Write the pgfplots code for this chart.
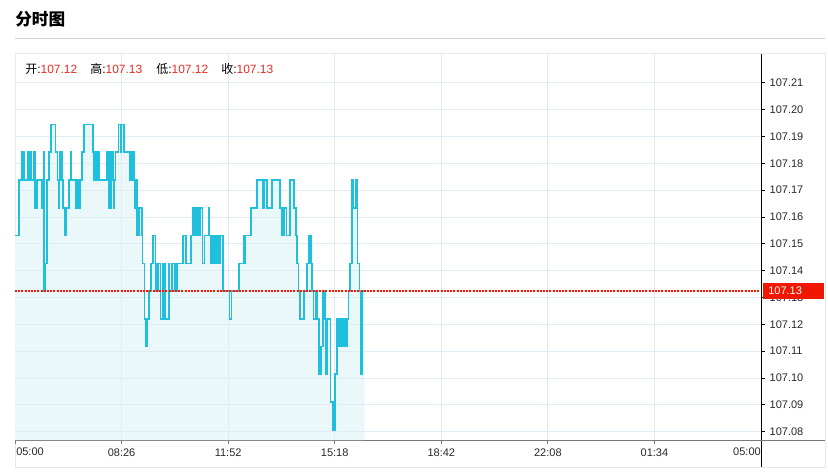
\documentclass[border=0pt]{standalone}
\usepackage{fontspec}
\setmainfont{Liberation Sans}
\newfontfamily\cjk{Noto Sans CJK SC}
\usepackage{pgfplots}
\usepackage{pgfplotstable}
\pgfplotsset{compat=1.18}

\definecolor{linec}{RGB}{30,192,222}
\definecolor{fillc}{RGB}{234,248,250}
\definecolor{gridc}{RGB}{224,235,243}
\definecolor{framec}{RGB}{226,232,238}
\definecolor{titleline}{RGB}{205,205,205}
\definecolor{redtxt}{RGB}{232,44,36}
\definecolor{redline}{RGB}{255,20,0}
\definecolor{redbox}{RGB}{240,22,0}
\definecolor{ticktxt}{RGB}{40,40,40}
\definecolor{xaxisc}{RGB}{120,120,120}

% minutes since 05:00, price
\pgfplotstableread{
m p
0 107.1531
8 107.1738
14 107.1841
15 107.1738
16 107.1841
18 107.1738
25 107.1841
27 107.1738
29 107.1841
31 107.1738
37 107.1841
38 107.1634
40 107.1738
41 107.1634
43 107.1738
51 107.1634
53 107.1738
55 107.1841
56 107.1324
58 107.1427
62 107.1738
66 107.1841
70 107.1944
78 107.1841
82 107.1738
84 107.1634
85 107.1738
87 107.1841
91 107.1738
93 107.1634
96 107.1531
98 107.1634
104 107.1738
107 107.1841
108 107.1738
118 107.1634
120 107.1738
124 107.1634
126 107.1738
129 107.1841
133 107.1944
151 107.1841
152 107.1738
153 107.1841
156 107.1738
158 107.1841
162 107.1738
178 107.1841
181 107.1738
182 107.1634
185 107.1738
186 107.1841
189 107.1738
190 107.1634
192 107.1738
194 107.1841
200 107.1944
204 107.1841
205 107.1944
210 107.1841
221 107.1738
223 107.1841
225 107.1738
226 107.1841
229 107.1738
232 107.1634
234 107.1738
235 107.1634
236 107.1531
240 107.1634
245 107.1531
246 107.1427
250 107.1221
253 107.1117
255 107.1221
258 107.1324
262 107.1427
266 107.1531
271 107.1324
273 107.1427
276 107.1324
277 107.1427
281 107.1221
285 107.1427
290 107.1221
297 107.1427
298 107.1324
303 107.1427
308 107.1324
310 107.1427
312 107.1324
313 107.1427
324 107.1531
330 107.1427
340 107.1531
344 107.1634
348 107.1531
352 107.1634
355 107.1531
357 107.1634
362 107.1427
366 107.1531
374 107.1634
375 107.1531
378 107.1427
380 107.1531
382 107.1427
384 107.1531
388 107.1427
390 107.1531
394 107.1427
396 107.1531
401 107.1427
402 107.1324
414 107.1221
418 107.1324
433 107.1427
442 107.1531
443 107.1427
445 107.1531
456 107.1634
467 107.1738
478 107.1634
481 107.1738
487 107.1634
496 107.1738
512 107.1634
515 107.1531
519 107.1634
524 107.1531
531 107.1738
539 107.1634
542 107.1531
544 107.1427
547 107.1324
550 107.1221
558 107.1324
563 107.1427
568 107.1531
571 107.1427
573 107.1324
576 107.1221
581 107.1324
584 107.1221
587 107.1014
590 107.1117
595 107.1324
598 107.1221
600 107.1014
603 107.1221
609 107.0910
614 107.0807
618 107.1014
622 107.1221
625 107.1117
627 107.1221
629 107.1117
631 107.1221
634 107.1117
636 107.1221
638 107.1117
641 107.1221
644 107.1324
647 107.1427
650 107.1738
653 107.1634
658 107.1738
661 107.1427
665 107.1324
668 107.1014
671 107.1324
675 107.1324
}\pricedata

\begin{document}
\begin{tikzpicture}
\path[use as bounding box] (0,0) rectangle (621pt,-355.5pt);
% title
\node[anchor=west, inner sep=0pt, font=\fontsize{12.5pt}{14pt}\selectfont] at (11.25pt,-14.25pt) {\cjk\bfseries 分时图};
\draw[titleline, line width=0.75pt] (11.25pt,-29.25pt) -- (618.75pt,-29.25pt);
% frame
\draw[framec, line width=0.75pt] (11.25pt,-40.5pt) rectangle (618.75pt,-350.25pt);

\begin{axis}[
  at={(11.25pt,-330pt)}, anchor=south west,
  width=559.5pt, height=289.5pt, scale only axis,
  xmin=0, xmax=1440, ymin=107.0769, ymax=107.2207,
  axis x line*=bottom, axis y line*=right,
  x axis line style={xaxisc, line width=0.75pt, -},
  y axis line style={black, line width=0.75pt, -},
  xtick={0,205.714,411.429,617.143,822.857,1028.571,1234.286,1440},
  xticklabels={,08:26,11:52,15:18,18:42,22:08,01:34,},
  ytick={107.08,107.09,107.10,107.11,107.12,107.13,107.14,107.15,107.16,107.17,107.18,107.19,107.20,107.21},
  yticklabel style={/pgf/number format/fixed, /pgf/number format/fixed zerofill, /pgf/number format/precision=2, /pgf/number format/assume math mode=true, font=\fontsize{8.25pt}{10pt}\selectfont, text=ticktxt},
  xticklabel style={font=\fontsize{8.25pt}{10pt}\selectfont, text=ticktxt},
  tick align=outside,
  major tick length=3pt,
  x tick style={xaxisc, line width=0.6pt},
  y tick style={black, line width=0.6pt},
  grid=major,
  major grid style={gridc, line width=0.6pt},
  clip=true,
]
\addplot[draw=none, fill=fillc, const plot] table[x=m, y=p] {\pricedata} -- (axis cs:675,107.0769) -- (axis cs:0,107.0769) -- cycle;
% grid lines again over the light fill
\pgfplotsinvokeforeach{107.08,107.09,107.10,107.11,107.12,107.13,107.14,107.15,107.16,107.17,107.18,107.19,107.20,107.21}{
  \draw[gridc, line width=0.6pt] (axis cs:0,#1) -- (axis cs:680,#1);
}
\pgfplotsinvokeforeach{205.714,411.429,617.143}{
  \draw[gridc, line width=0.6pt] (axis cs:#1,107.0769) -- (axis cs:#1,107.2207);
}
\addplot[draw=linec, line width=1.3pt, const plot, mark=none, line join=miter] table[x=m, y=p] {\pricedata};
\addplot[draw=redline, line width=0.8pt, dash pattern=on 1.5pt off 0.9pt, mark=none] coordinates {(0,107.1324) (1440,107.1324)};
\end{axis}

% axis extensions
\draw[black, line width=0.75pt] (570.75pt,-330pt) -- (570.75pt,-350.25pt);
\draw[xaxisc, line width=0.75pt] (570.75pt,-330pt) -- (618.75pt,-330pt);
% end x labels
\node[anchor=base west, inner sep=0pt, text=ticktxt, font=\fontsize{8.25pt}{10pt}\selectfont] at (12pt,-341.25pt) {05:00};
\node[anchor=base east, inner sep=0pt, text=ticktxt, font=\fontsize{8.25pt}{10pt}\selectfont] at (570.75pt,-341.25pt) {05:00};
% last price box
\fill[redbox] (572.25pt,-212.25pt) rectangle (618pt,-224.25pt);
\node[anchor=west, inner sep=0pt, text=white, font=\fontsize{8.25pt}{10pt}\selectfont] at (576pt,-218.25pt) {107.13};
% OHLC
\begin{scope}[every node/.style={anchor=west, inner sep=0pt, font=\fontsize{9pt}{11pt}\selectfont}]
\node at (18.75pt,-51.75pt) {{\cjk 开}:\textcolor{redtxt}{107.12}};
\node at (67.5pt,-51.75pt) {{\cjk 高}:\textcolor{redtxt}{107.13}};
\node at (117pt,-51.75pt) {{\cjk 低}:\textcolor{redtxt}{107.12}};
\node at (165.75pt,-51.75pt) {{\cjk 收}:\textcolor{redtxt}{107.13}};
\end{scope}
\end{tikzpicture}
\end{document}
